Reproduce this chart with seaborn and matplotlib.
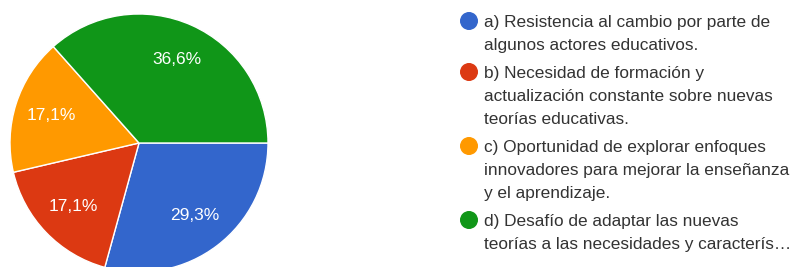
import matplotlib
matplotlib.use("Agg")
import matplotlib.pyplot as plt
import matplotlib.patches as mpatches
from matplotlib.transforms import IdentityTransform
import seaborn as sns

# data
categories = ["a", "b", "c", "d"]
values = [29.3, 17.1, 17.1, 36.6]
pct_labels = ["29,3%", "17,1%", "17,1%", "36,6%"]
legend_labels = [
    "a) Resistencia al cambio por parte de\nalgunos actores educativos.",
    "b) Necesidad de formación y\nactualización constante sobre nuevas\nteorías educativas.",
    "c) Oportunidad de explorar enfoques\ninnovadores para mejorar la enseñanza\ny el aprendizaje.",
    "d) Desafío de adaptar las nuevas\nteorías a las necesidades y caracterís…",
]
colors = sns.color_palette(["#3366CC", "#DC3912", "#FF9900", "#109618"])

sns.set_theme(style="white")
plt.rcParams["font.family"] = ["Liberation Sans", "DejaVu Sans"]

W, H = 793, 267
fig = plt.figure(figsize=(W / 100, H / 100), dpi=100)

# pie: center (139, 143), radius 129 px
cx, cy, r = 139, 143, 129
ax = fig.add_axes([(cx - r) / W, (H - cy - r) / H, 2 * r / W, 2 * r / H])
wedges, texts = ax.pie(
    values, colors=colors, startangle=0, counterclock=False,
    labels=pct_labels, labeldistance=0.71,
    wedgeprops=dict(edgecolor="white", linewidth=1),
    textprops=dict(color="white", fontsize=12.5),
)
for t in texts:
    t.set_horizontalalignment("center")
    t.set_verticalalignment("center")
ax.set_xlim(-1, 1)
ax.set_ylim(-1, 1)
ax.set_aspect("equal")
ax.axis("off")

# legend drawn by hand so the marker sits on the first line
line_h = 23
item_gap = 28
y = 21
for lab, col in zip(legend_labels, colors):
    fig.add_artist(mpatches.Circle((469, H - y), 8.3, color=col,
                                   transform=IdentityTransform()))
    lines = lab.split("\n")
    for i, line in enumerate(lines):
        fig.text(484 / W, 1 - (y + i * line_h) / H, line, fontsize=12.4,
                 color="#333333", va="center_baseline", ha="left")
    y += (len(lines) - 1) * line_h + item_gap

fig.savefig("out.png", dpi=100, facecolor="white")
